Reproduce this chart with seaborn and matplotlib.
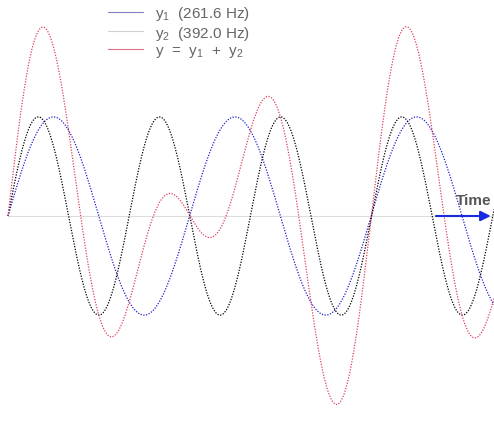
import numpy as np
import pandas as pd
import matplotlib
matplotlib.use("Agg")
import matplotlib.pyplot as plt
import seaborn as sns
from matplotlib.lines import Line2D

sns.set_style("white")
plt.rcParams["font.family"] = ["Liberation Sans", "DejaVu Sans"]
plt.rcParams["mathtext.fontset"] = "custom"
plt.rcParams["mathtext.rm"] = "Liberation Sans"
plt.rcParams["mathtext.it"] = "Liberation Sans"

# Note frequencies (Hz) of the two tones
freq_1 = 261.6
freq_2 = 392.0
series_labels = ["$\\mathrm{y}_1$  (261.6 Hz)", "$\\mathrm{y}_2$  (392.0 Hz)",
                 "$\\mathrm{y}$  =  $\\mathrm{y}_1$  +  $\\mathrm{y}_2$"]
series_colors = ["#2020d0", "#000000", "#e0405a"]
legend_colors = ["#8080c0", "#d0d0d0", "#e07080"]

t_ms = np.linspace(0, 10.3, 1500)
y1 = np.sin(2 * np.pi * freq_1 * t_ms / 1000)
y2 = np.sin(2 * np.pi * freq_2 * t_ms / 1000)
df = pd.DataFrame({"t": t_ms, "y1": y1, "y2": y2, "y": y1 + y2})

fig = plt.figure(figsize=(4.94, 4.35), dpi=100)
ax = fig.add_axes([0, 0, 1, 1])

ax.axhline(0, xmin=8 / 494, xmax=1, color="#dddddd", lw=0.8, zorder=0)
sns.lineplot(data=df, x="t", y="y1", ax=ax, color=series_colors[0], lw=0.9, ls=(0, (1, 1.2)))
sns.lineplot(data=df, x="t", y="y2", ax=ax, color=series_colors[1], lw=0.9, ls=(0, (1, 1.2)))
sns.lineplot(data=df, x="t", y="y", ax=ax, color=series_colors[2], lw=0.9, ls=(0, (1, 1.2)))

ax.annotate("", xy=(10.22, 0), xytext=(8.95, 0), annotation_clip=False,
            arrowprops=dict(arrowstyle="-|>", color="#1a2adf", lw=1.5, mutation_scale=15))
ax.text(9.43, 0.09, "Time", color="#555555", fontsize=11, fontweight="bold", va="bottom")

ax.set_xlim(-0.168, 10.23)
ax.set_ylim(-2.2, 2.19)
ax.set_axis_off()

handles = [Line2D([], [], color=c, lw=0.8) for c in legend_colors]
leg = ax.legend(handles, series_labels, loc="upper left", bbox_to_anchor=(0.19, 1.02),
                frameon=False, fontsize=11, handlelength=2.3, labelspacing=0.1)
for txt in leg.get_texts():
    txt.set_color("#666666")

fig.savefig("out.png", dpi=100)
